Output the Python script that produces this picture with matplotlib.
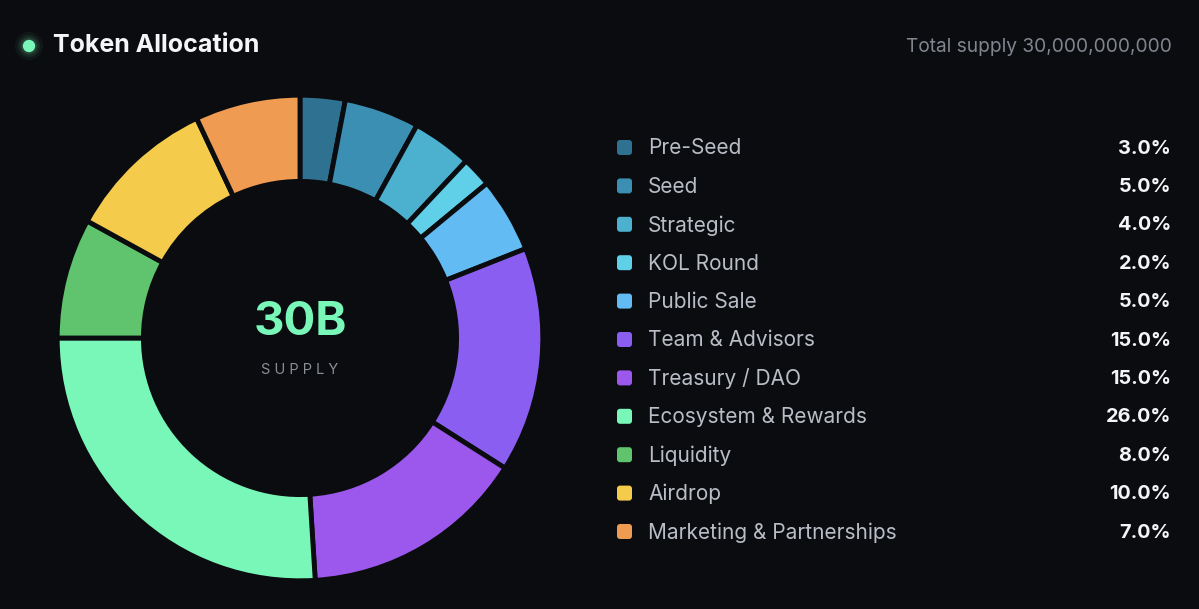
import matplotlib.pyplot as plt
from matplotlib.patches import FancyBboxPatch, Circle

plt.rcParams["font.family"] = ["Inter", "DejaVu Sans"]

BG = "#0b0c0f"

labels = ["Pre-Seed", "Seed", "Strategic", "KOL Round", "Public Sale",
          "Team & Advisors", "Treasury / DAO", "Ecosystem & Rewards",
          "Liquidity", "Airdrop", "Marketing & Partnerships"]
shares = [3.0, 5.0, 4.0, 2.0, 5.0, 15.0, 15.0, 26.0, 8.0, 10.0, 7.0]
colors = ["#2f7190", "#3a8fb3", "#4cb0cf", "#5fd0e8", "#62bbf2",
          "#8a5ef0", "#9c58ec", "#79f7b9", "#5fc46d", "#f4cb4b", "#ef9b52"]

title = "Token Allocation"
subtitle = "Total supply 30,000,000,000"
center_big = "30B"
center_small = "SUPPLY"

W, H = 1199, 609
fig = plt.figure(figsize=(W / 100, H / 100), dpi=100, facecolor=BG)

# ---- donut ---------------------------------------------------------------
cx, cy, R = 300, 338, 244
ax = fig.add_axes([(cx - R) / W, (H - cy - R) / H, 2 * R / W, 2 * R / H])
ax.set_facecolor(BG)
ax.pie(shares, colors=colors, startangle=90, counterclock=False,
       radius=1.0, wedgeprops=dict(width=0.355, edgecolor=BG, linewidth=3.5))
ax.set_xlim(-1.005, 1.005)
ax.set_ylim(-1.005, 1.005)
ax.set_aspect("equal")
ax.axis("off")

ax.text(0, 0.06, center_big, ha="center", va="center", fontsize=34,
        fontweight="bold", color="#79f7b9")
ax.text(0, -0.13, " ".join(center_small), ha="center", va="center",
        fontsize=10.5, color="#8a8e96")

# ---- header --------------------------------------------------------------
hx = fig.add_axes([0, 0, 1, 1], facecolor="none")
hx.set_xlim(0, W)
hx.set_ylim(H, 0)
hx.axis("off")

for r, a in [(14, 0.05), (11, 0.08), (8.5, 0.12)]:
    hx.add_patch(Circle((29, 46), r, color="#79f7b9", alpha=a, lw=0))
hx.add_patch(Circle((29, 46), 6.2, color="#79f7b9", lw=0))
hx.text(53, 46, title, ha="left", va="center", fontsize=18,
        fontweight="bold", color="#f4f5f7")
hx.text(1172, 47, subtitle, ha="right", va="center", fontsize=13.8,
        color="#80858e")

# ---- legend --------------------------------------------------------------
y0, dy = 147.5, 38.4
for i, (lab, val, col) in enumerate(zip(labels, shares, colors)):
    y = y0 + i * dy
    hx.add_patch(FancyBboxPatch((617, y - 7.5), 15, 15,
                                boxstyle="round,pad=0,rounding_size=3",
                                facecolor=col, edgecolor="none"))
    hx.text(648, y + 1, lab, ha="left", va="center", fontsize=15,
            color="#b9bdc6")
    hx.text(1171, y + 1, f"{val:.1f}%", ha="right", va="center",
            fontsize=14.3, fontweight="bold", color="#f4f5f7")

fig.savefig("out.png", dpi=100, facecolor=BG)
